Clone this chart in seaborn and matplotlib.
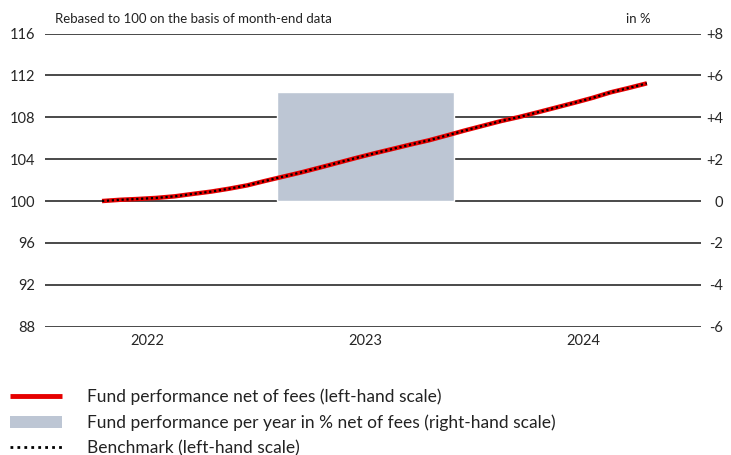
import pandas as pd
import numpy as np
import matplotlib
matplotlib.use('Agg')
import matplotlib.pyplot as plt
from matplotlib.lines import Line2D
from matplotlib.patches import Patch
import seaborn as sns

# ------------------------------------------------------------------
# DATA
# ------------------------------------------------------------------
# month-end data, Apr 2022 .. Oct 2024, plotted mid-month on a decimal-year axis
months = pd.period_range('2022-04', '2024-10', freq='M')
fund = [100.0, 100.12, 100.2, 100.3, 100.45, 100.68, 100.9, 101.18, 101.5, 101.93,
        102.34, 102.75, 103.2, 103.66, 104.12, 104.56, 104.98, 105.4, 105.8, 106.27,
        106.75, 107.2, 107.65, 108.04, 108.48, 108.93, 109.38, 109.85, 110.38, 110.8,
        111.24]
benchmark = [100.0, 100.12, 100.2, 100.3, 100.45, 100.68, 100.9, 101.18, 101.5, 101.93,
             102.34, 102.75, 103.2, 103.66, 104.12, 104.56, 104.98, 105.4, 105.8, 106.27,
             106.75, 107.2, 107.65, 108.04, 108.48, 108.93, 109.38, 109.85, 110.38, 110.8,
             111.24]

years = ['2022', '2023', '2024']
bar_years = [2023]
bar_pct = [5.2]

left_ticks = [88, 92, 96, 100, 104, 108, 112, 116]
right_ticks = [-6, -4, -2, 0, 2, 4, 6, 8]
right_labels = ['-6', '-4', '-2', '0', '+2', '+4', '+6', '+8']

legend_labels = ['Fund performance net of fees (left-hand scale)',
                 'Fund performance per year in % net of fees (right-hand scale)',
                 'Benchmark (left-hand scale)']

RED = '#e60000'
BAR = '#bdc6d4'
GRID = '#2a2a2a'

# ------------------------------------------------------------------
# PLOT
# ------------------------------------------------------------------
sns.set_style('white')
plt.rcParams['font.family'] = ['Lato', 'DejaVu Sans']
plt.rcParams['text.color'] = '#222222'

df = pd.DataFrame({
    'x': [m.year + (m.month - 0.5) / 12 for m in months],
    'fund': fund,
    'benchmark': benchmark,
})
bars = pd.DataFrame({'x': [y + 0.5 for y in bar_years], 'pct': bar_pct})

fig = plt.figure(figsize=(7.31, 4.55), dpi=100)
# ax carries the right-hand scale (bar), ax2 the left-hand scale (lines) on top
ax = fig.add_axes([45 / 731, (455 - 326.7) / 455, (701 - 45) / 731, (326.7 - 33.5) / 455])
ax2 = ax.twinx()

ax.set_axisbelow(True)
for t in right_ticks:
    ax.axhline(t, color=GRID, lw=1.2, zorder=0)
ax.bar(bars['x'], bars['pct'], width=0.81, color=BAR, zorder=2)

sns.lineplot(data=df, x='x', y='fund', ax=ax2, color=RED, lw=3.2,
             solid_capstyle='butt', zorder=3)
sns.lineplot(data=df, x='x', y='benchmark', ax=ax2, color='black', lw=1.6,
             linestyle=(0, (1, 1.2)), zorder=4)

ax.set_xlim(2022.03, 2025.04)
ax.set_ylim(-6, 8)
ax2.set_ylim(88, 116)

ax.set_xticks([int(y) + 0.5 for y in years])
ax.set_xticklabels(years)
ax.tick_params(axis='x', length=0, pad=5, labelsize=10.5)

ax.yaxis.tick_right()
ax.set_yticks(right_ticks)
ax.set_yticklabels(right_labels, ha='right')
ax.tick_params(axis='y', length=0, pad=16, labelsize=10.5)

ax2.yaxis.tick_left()
ax2.set_yticks(left_ticks)
ax2.tick_params(axis='y', length=0, pad=7, labelsize=10.5)

for a in (ax, ax2):
    a.set_xlabel('')
    a.set_ylabel('')
    for s in a.spines.values():
        s.set_visible(False)
ax.patch.set_visible(False)

fig.text(55 / 731, 1 - 19 / 455, 'Rebased to 100 on the basis of month-end data',
         fontsize=9.5, va='center', ha='left')
fig.text(651 / 731, 1 - 19 / 455, 'in %', fontsize=9.5, va='center', ha='right')

handles = [Line2D([], [], color=RED, lw=3.5, solid_capstyle='butt'),
           Patch(facecolor=BAR, edgecolor='none'),
           Line2D([], [], color='black', lw=2, linestyle=(0, (1, 1.5)))]
fig.legend(handles, legend_labels, loc='upper left', bbox_to_anchor=(10 / 731, 1 - 388.5 / 455),
           frameon=False, fontsize=12.5, borderpad=0, borderaxespad=0,
           handlelength=3.0, handleheight=0.7, handletextpad=1.44, labelspacing=0.53)

plt.savefig('out.png', dpi=100)
plt.close(fig)
